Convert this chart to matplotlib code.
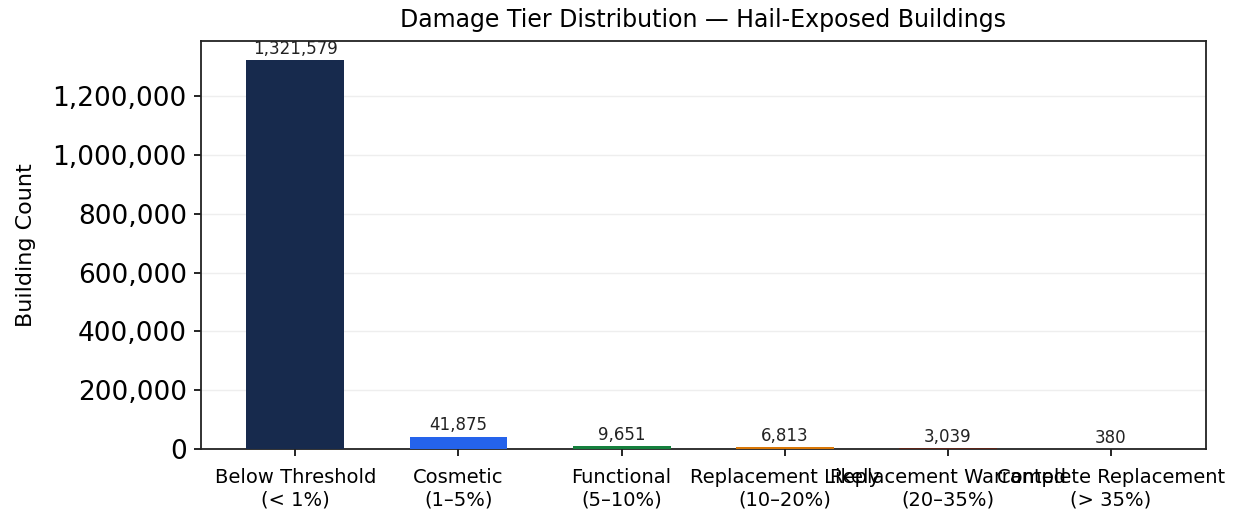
import matplotlib
matplotlib.use("Agg")
import matplotlib.pyplot as plt
from matplotlib.ticker import FuncFormatter

categories = ["Below Threshold\n(< 1%)", "Cosmetic\n(1–5%)", "Functional\n(5–10%)",
              "Replacement Likely\n(10–20%)", "Replacement Warranted\n(20–35%)",
              "Complete Replacement\n(> 35%)"]
counts = [1321579, 41875, 9651, 6813, 3039, 380]
colors = ["#172a4d", "#2563eb", "#15803d", "#d97706", "#5c2418", "#3b0a0a"]

fig, ax = plt.subplots(figsize=(12.39, 5.12), dpi=100)
fig.subplots_adjust(left=0.162, right=0.973, top=0.92, bottom=0.123)
x = list(range(len(categories)))
bars = ax.bar(x, counts, width=0.6, color=colors, zorder=3)
for xi, c in zip(x, counts):
    ax.text(xi, c + 8000, f"{c:,}", ha="center", va="bottom", fontsize=12, color="#222222")
ax.set_xticks(x)
ax.set_xticklabels(categories, fontsize=14)
ax.yaxis.set_major_formatter(FuncFormatter(lambda v, p: f"{int(v):,}"))
ax.tick_params(axis="y", labelsize=19, length=5, width=1.2, pad=5)
ax.tick_params(axis="x", length=5, width=1.2, pad=9)
ax.set_ylim(0, max(counts) * 1.05)
ax.set_ylabel("Building Count", fontsize=16, labelpad=12)
ax.set_title("Damage Tier Distribution — Hail-Exposed Buildings", fontsize=17, pad=10)
ax.grid(axis="y", color="#eeeeee", linewidth=1, zorder=0)
for s in ax.spines.values():
    s.set_color("#222222")
    s.set_linewidth(1.3)
fig.savefig("out.png")
